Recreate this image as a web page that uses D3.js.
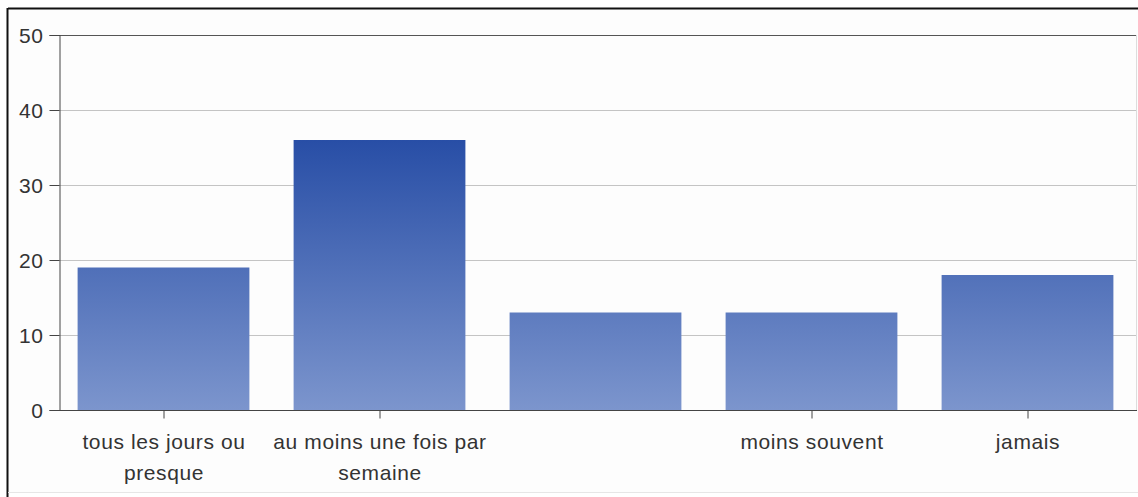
<!DOCTYPE html>
<html>
<head>
<meta charset="utf-8">
<script src="https://cdn.jsdelivr.net/npm/d3@7"></script>
<style>
  html, body { margin: 0; padding: 0; background: #ffffff; }
  svg { display: block; }
  text { font-family: "Liberation Sans", Arial, sans-serif; fill: #333333; }
</style>
</head>
<body>
<script>
const categories = ["tous les jours ou presque", "au moins une fois par semaine", "", "moins souvent", "jamais"];
const values = [19, 36, 13, 13, 18];
const yTicks = [0, 10, 20, 30, 40, 50];

const W = 1138, H = 497;
const svg = d3.select("body").append("svg").attr("width", W).attr("height", H);

svg.append("rect").attr("x", 0).attr("y", 0).attr("width", W).attr("height", H).attr("fill", "#ffffff");
// outer frame
svg.append("rect").attr("x", 8).attr("y", 9).attr("width", W).attr("height", 483)
  .attr("fill", "#fdfdfd").attr("stroke", "none");
svg.append("line").attr("x1", 8).attr("x2", W).attr("y1", 8.5).attr("y2", 8.5)
  .attr("stroke", "#111").attr("stroke-width", 2);
svg.append("line").attr("x1", 7.5).attr("x2", 7.5).attr("y1", 8).attr("y2", H)
  .attr("stroke", "#111").attr("stroke-width", 2);
svg.append("line").attr("x1", 8).attr("x2", W).attr("y1", 492.5).attr("y2", 492.5)
  .attr("stroke", "#e6e6e6").attr("stroke-width", 1);

const plotLeft = 59, plotRight = 1137, plotTop = 35, plotBottom = 410;

const x = d3.scaleBand().domain(categories).range([56, 1136]).paddingInner(0.2).paddingOuter(0.1);
const y = d3.scaleLinear().domain([0, 50]).range([plotBottom, plotTop]);

const defs = svg.append("defs");
const grad = defs.append("linearGradient").attr("id", "barGrad")
  .attr("gradientUnits", "userSpaceOnUse")
  .attr("x1", 0).attr("x2", 0).attr("y1", y(36)).attr("y2", y(0));
grad.append("stop").attr("offset", "0%").attr("stop-color", "#284ea6");
grad.append("stop").attr("offset", "100%").attr("stop-color", "#7c95cd");

// gridlines / plot frame
svg.append("g").selectAll("line").data(yTicks.filter(d => d > 0 && d < 50)).join("line")
  .attr("x1", plotLeft).attr("x2", plotRight)
  .attr("y1", d => Math.round(y(d)) + 0.5).attr("y2", d => Math.round(y(d)) + 0.5)
  .attr("stroke", "#c4c4c4").attr("stroke-width", 1);
svg.append("line").attr("x1", plotLeft).attr("x2", plotRight).attr("y1", y(50) + 0.5).attr("y2", y(50) + 0.5)
  .attr("stroke", "#555").attr("stroke-width", 1);
svg.append("line").attr("x1", plotRight - 0.5).attr("x2", plotRight - 0.5).attr("y1", plotTop).attr("y2", plotBottom)
  .attr("stroke", "#dddddd").attr("stroke-width", 1);

// bars
svg.append("g").selectAll("rect").data(values).join("rect")
  .attr("x", (d, i) => x(categories[i]))
  .attr("width", x.bandwidth() - 1)
  .attr("y", d => y(d))
  .attr("height", d => y(0) - y(d))
  .attr("fill", "url(#barGrad)");

// y axis
const yAxis = d3.axisLeft(y).tickValues(yTicks).tickSize(10).tickPadding(6).tickFormat(d3.format("d"));
const gy = svg.append("g").attr("transform", `translate(${plotLeft + 0.5},0)`).call(yAxis);
gy.select(".domain").attr("stroke", "#444");
gy.selectAll(".tick line").attr("stroke", "#444");
gy.selectAll(".tick text").attr("font-size", 21).attr("fill", "#333").attr("dy", "0.34em")
  .style("letter-spacing", "0.6px")
  .style("font-family", "Liberation Sans, Arial, sans-serif");

// x axis
const xAxis = d3.axisBottom(x).tickSize(8).tickPadding(16).tickSizeOuter(0);
const gx = svg.append("g").attr("transform", `translate(0,${plotBottom + 0.5})`).call(xAxis);
gx.select(".domain").attr("stroke", "#444").attr("d", `M${plotLeft},0H${plotRight}`);
gx.selectAll(".tick").filter(d => d === "").select("line").remove();
gx.selectAll(".tick line").attr("stroke", "#444");
gx.selectAll(".tick text").attr("font-size", 21).attr("fill", "#333")
  .style("letter-spacing", "0.6px")
  .style("font-family", "Liberation Sans, Arial, sans-serif")
  .each(function(d) {
    const t = d3.select(this);
    const words = d.split(" ").filter(w => w.length);
    t.text(null);
    const maxW = 228;
    let lines = [], cur = [];
    const tmp = t.append("tspan");
    words.forEach(w => {
      const test = cur.concat([w]).join(" ");
      tmp.text(test);
      if (tmp.node().getComputedTextLength() > maxW && cur.length) {
        lines.push(cur.join(" "));
        cur = [w];
      } else {
        cur.push(w);
      }
    });
    if (cur.length) lines.push(cur.join(" "));
    tmp.remove();
    lines.forEach((ln, i) => {
      t.append("tspan").attr("x", 0).attr("dy", i === 0 ? "0.71em" : "1.45em").text(ln);
    });
  });
</script>
</body>
</html>
